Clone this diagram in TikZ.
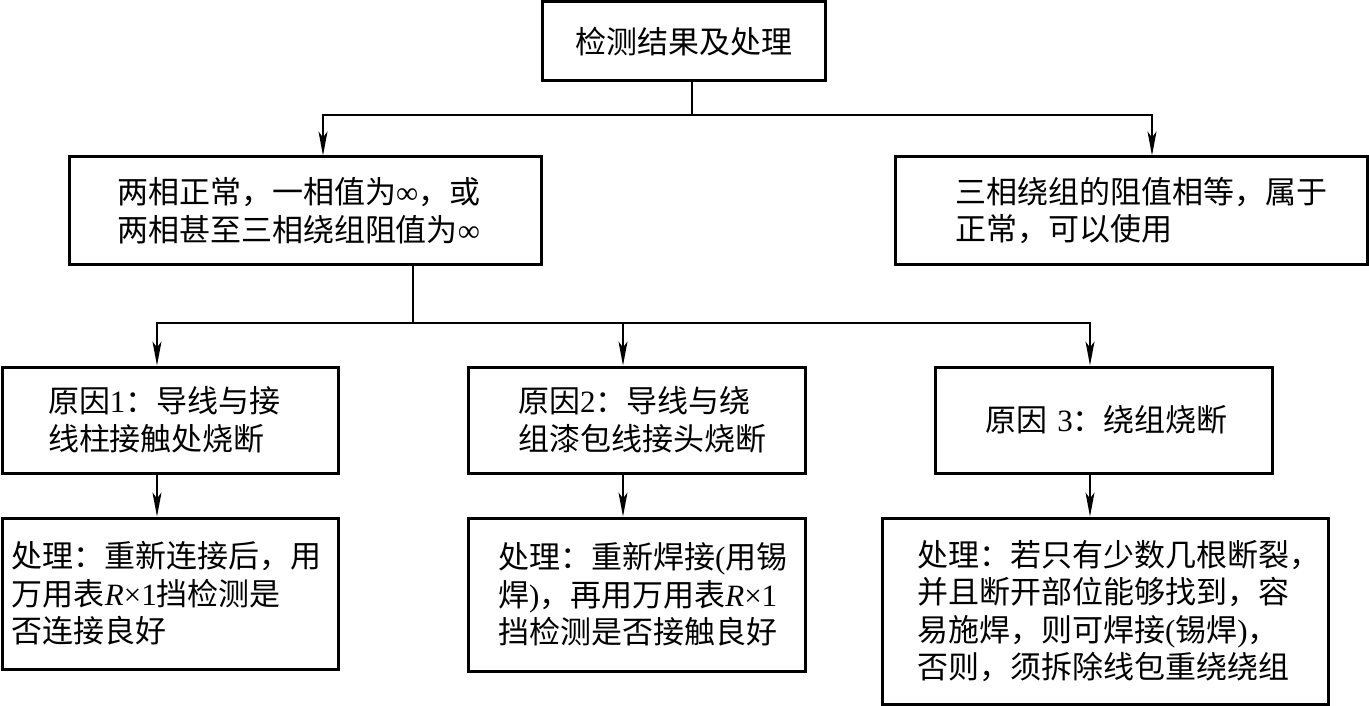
\documentclass[tikz,border=0pt]{standalone}
\usepackage{fontspec}
\setmainfont{Noto Sans CJK SC}
\newfontfamily\tnrfont{Liberation Serif}
\usetikzlibrary{arrows.meta}
\newcommand\latn[1]{{\tnrfont #1}}
\newcommand\myR{{\tnrfont\itshape R}}
\tikzset{
  box/.style={draw, line width=3pt, align=left, inner sep=0pt,
    font=\fontsize{31}{37.5}\selectfont},
  conn/.style={line width=1.6pt},
  arr/.style={line width=1.6pt, -{Stealth[length=24pt,width=9pt,inset=6pt]}}
}
\begin{document}
\begin{tikzpicture}[x=1pt,y=-1pt]
\useasboundingbox (0,0) rectangle (1369,706);
% boxes
\node[box, minimum width=283, minimum height=79] (top) at (683.5,41.5) {检测结果及处理};
\node[box, minimum width=472, minimum height=107, text width=376] (ml) at (305,210.5)
  {两相正常，一相值为\latn{∞}，或\\两相甚至三相绕组阻值为\latn{∞}};
\node[box, minimum width=472, minimum height=107, text width=352] (mr) at (1131,210.5)
  {三相绕组的阻值相等，属于\\正常，可以使用};
\node[box, minimum width=336, minimum height=106, text width=244] (b1) at (170,420)
  {原因\latn{1}：导线与接\\线柱接触处烧断};
\node[box, minimum width=337, minimum height=106, text width=237] (b2) at (636.5,420)
  {原因\latn{2}：导线与绕\\组漆包线接头烧断};
\node[box, minimum width=337, minimum height=106, text width=237] (b3) at (1103.5,420)
  {原因\latn{~3}：绕组烧断};
\node[box, minimum width=336, minimum height=151, text width=316] (b4) at (170,593.5)
  {处理：重新连接后，用\\万用表\myR\latn{×1}挡检测是\\否连接良好};
\node[box, minimum width=337, minimum height=153, text width=277] (b5) at (636.5,594.5)
  {处理：重新焊接\latn{(}用锡\\焊\latn{)}，再用万用表\myR\latn{×1}\\挡检测是否接触良好};
\node[box, minimum width=446, minimum height=186, text width=376] (b6) at (1105,611)
  {处理：若只有少数几根断裂，\\并且断开部位能够找到，容\\易施焊，则可焊接\latn{(}锡焊\latn{)}，\\否则，须拆除线包重绕绕组};
% connectors level 1
\coordinate (j1) at (692,115);
\coordinate (a1) at (323,115);
\coordinate (a2) at (1152,115);
\draw[conn] (top.south -| j1) -- (j1);
\draw[arr] (j1) -- (a1) -- (a1 |- ml.north);
\draw[arr] (j1) -- (a2) -- (a2 |- mr.north);
% connectors level 2
\coordinate (j2) at (413,323);
\coordinate (c1) at (157,323);
\coordinate (c2) at (623,323);
\coordinate (c3) at (1090,323);
\draw[conn] (ml.south -| j2) -- (j2);
\draw[arr] (j2) -- (c1) -- (c1 |- b1.north);
\draw[arr] (c2) -- (c2 |- b2.north);
\draw[arr] (j2) -- (c3) -- (c3 |- b3.north);
% connectors level 3
\draw[arr] (c1 |- b1.south) -- (c1 |- b4.north);
\draw[arr] (c2 |- b2.south) -- (c2 |- b5.north);
\draw[arr] (c3 |- b3.south) -- (c3 |- b6.north);
\end{tikzpicture}
\end{document}
